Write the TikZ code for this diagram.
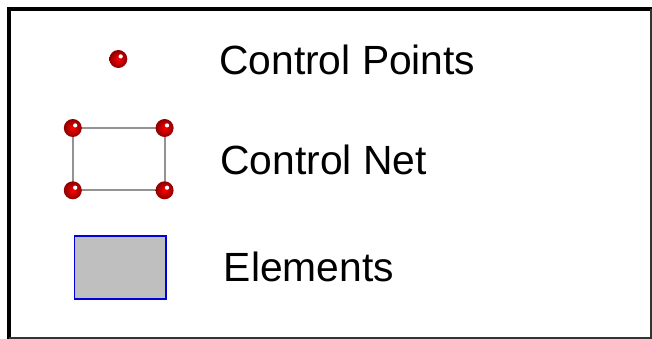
\documentclass[tikz,border=0pt]{standalone}
\usepackage{fontspec}
\setmainfont{Liberation Sans}
\begin{document}
\begin{tikzpicture}[x=1pt,y=-1pt,
  cpball/.style={circle,inner sep=0pt,minimum size=18pt,inner color=red,outer color=red!55!black,
    path picture={\fill[white] ([xshift=2.4pt,yshift=2.6pt]path picture bounding box.center) circle (2.1pt);}},
  netline/.style={draw=gray!85,line width=2pt},
  elem/.style={draw=blue!85!black,line width=1.6pt,fill=black!25},
  lbl/.style={anchor=base west,inner sep=0pt,font=\fontsize{40.8}{48}\selectfont}]
\useasboundingbox (0,0) rectangle (652,339);
% frame
\draw[line width=4pt,line cap=rect] (652,9) -- (9,9) -- (9,339);
\draw[line width=1.6pt,black!80] (651,9) -- (651,338) -- (9,338);
% single control point
\node[cpball] (p0) at (118.3,59) {};
\node[lbl] (t1) at (219,75) {Control Points};
% control net
\coordinate (c1) at (72.8,128);
\coordinate (c2) at (164.6,128);
\coordinate (c3) at (164.6,190.3);
\coordinate (c4) at (72.8,190.3);
\draw[netline] (c1) -- (c2) -- (c3) -- (c4) -- cycle;
\node[cpball] (n1) at (c1) {};
\node[cpball] (n2) at (c2) {};
\node[cpball] (n3) at (c3) {};
\node[cpball] (n4) at (c4) {};
\node[lbl] (t2) at (220.3,175) {Control Net};
% element
\node[elem,minimum width=91.5pt,minimum height=62.5pt,inner sep=0pt] (el) at (120.2,267.5) {};
\node[lbl] (t3) at (223.7,281.7) {Elements};
\end{tikzpicture}
\end{document}
